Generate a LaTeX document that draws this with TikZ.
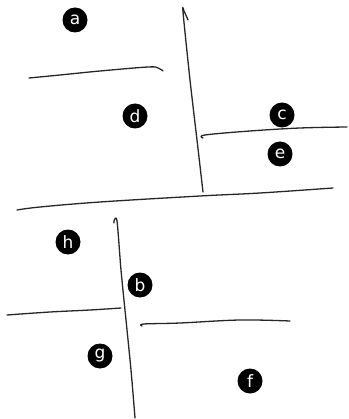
\documentclass[tikz,border=0pt]{standalone}
\usepackage{fontspec}
\setsansfont{DejaVu Sans}
\usepackage{tikz}
\usetikzlibrary{positioning}

\begin{document}
\begin{tikzpicture}[
  x=1pt, y=-1pt,
  tag/.style    = {circle, fill=black, text=white, inner sep=0pt,
                   minimum size=25pt, font=\sffamily\fontsize{17}{17}\selectfont},
  stroke/.style = {line width=1.3pt, black!85, line cap=round, line join=round},
]
\useasboundingbox (0,0) rectangle (348,419);

%% ── Top half strokes ──────────────────────────────────────────────
\draw[stroke] plot[smooth, tension=0.6] coordinates
  {(29,78) (60,75) (100,71) (148,67) (158,68) (163,71)};
\draw[stroke] plot[smooth, tension=0.5] coordinates
  {(188,20) (184,11) (183,12) (190,80) (197,140) (203,192)};
\draw[stroke] plot[smooth, tension=0.6] coordinates
  {(203,138) (205,135) (250,131) (300,128) (347,127)};
\draw[stroke] plot[smooth, tension=0.6] coordinates
  {(17,210) (40,207) (100,202) (200,196) (260,193) (333,188)};

%% ── Bottom half strokes ───────────────────────────────────────────
\draw[stroke] plot[smooth, tension=0.5] coordinates
  {(114,223) (114,221) (117,221) (121,270) (126,320) (131,370) (135,418)};
\draw[stroke] plot[smooth, tension=0.6] coordinates
  {(7,315) (50,312) (90,310) (121,308)};
\draw[stroke] plot[smooth, tension=0.6] coordinates
  {(142,326) (144,324) (180,323) (240,320) (290,321)};

%% ── Labels ────────────────────────────────────────────────────────
\node[tag] (la) at (75,20)   {a};
\node[tag] (ld) at (135,116) {d};
\node[tag] (lc) at (282,115) {c};
\node[tag] (le) at (280,154) {e};
\node[tag] (lh) at (68,242)  {h};
\node[tag] (lb) at (140,285) {b};
\node[tag] (lg) at (100,356) {g};
\node[tag] (lf) at (250,381) {f};

\end{tikzpicture}
\end{document}
